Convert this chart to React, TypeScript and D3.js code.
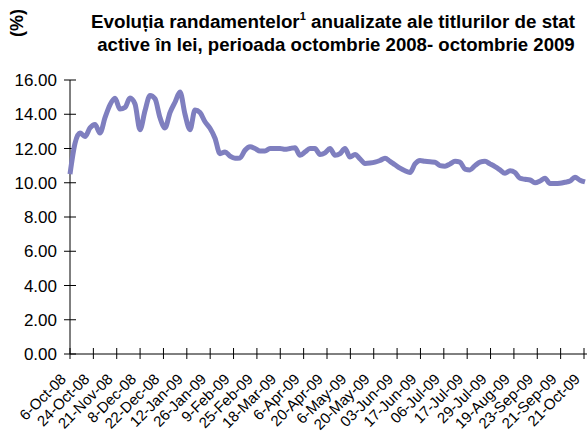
import React from 'react';
import * as d3 from 'd3';

// tick labels on the category axis (one every few auctions)
const dateLabels = [
    '6-Oct-08', '24-Oct-08', '21-Nov-08', '8-Dec-08', '22-Dec-08', '12-Jan-09',
    '26-Jan-09', '9-Feb-09', '25-Feb-09', '18-Mar-09', '6-Apr-09', '20-Apr-09',
    '6-May-09', '20-May-09', '03-Jun-09', '17-Jun-09', '06-Jul-09', '17-Jul-09',
    '29-Jul-09', '19-Aug-09', '23-Sep-09', '21-Sep-09', '21-Oct-09'
];

// yields (%)
const yields = [
    10.5, 12.3, 12.9, 12.7, 13.2, 13.4, 12.9, 13.8, 14.55, 14.93,
    14.3, 14.4, 14.95, 14.6, 13.1, 14.2, 15.1, 14.9, 13.8, 13.2,
    14.1, 14.7, 15.3, 14.0, 13.1, 14.25, 14.1, 13.56, 13.18, 12.6,
    11.7, 11.8, 11.55, 11.43, 11.45, 11.9, 12.1, 12.0, 11.85, 11.85,
    12.0, 12.0, 12.0, 11.95, 12.0, 12.05, 11.6, 11.8, 12.0, 12.0,
    11.65, 11.75, 12.0, 11.6, 11.7, 12.0, 11.5, 11.65, 11.4, 11.13,
    11.15, 11.2, 11.3, 11.43, 11.25, 11.05, 10.85, 10.7, 10.6, 11.1,
    11.3, 11.25, 11.22, 11.2, 11.0, 10.97, 11.1, 11.25, 11.2, 10.8,
    10.75, 11.0, 11.2, 11.25, 11.1, 10.94, 10.75, 10.55, 10.7, 10.6,
    10.26, 10.2, 10.16, 10.0, 10.1, 10.26, 9.95, 9.95, 9.97, 10.03,
    10.1, 10.32, 10.15, 10.05
];

const yTicks = [0, 2, 4, 6, 8, 10, 12, 14, 16];

export default function App() {
    const width = 588, height = 443;
    const left = 70, right = 585, top = 80, bottom = 354;

    const x = d3.scaleLinear().domain([0, yields.length - 1]).range([left, right]);
    const xl = d3.scalePoint().domain(dateLabels).range([left, 584]);
    const y = d3.scaleLinear().domain([0, 16]).range([bottom, top]);

    const line = d3.line<number>()
        .x((d, i) => x(i))
        .y(d => y(d))
        .curve(d3.curveMonotoneX);

    const font = 'Liberation Sans, Arial, sans-serif';

    return (
        <svg width={width} height={height} style={{ position: 'absolute', left: 0, top: 0 }}
            fontFamily={font}>
            <rect width={width} height={height} fill="#fff" />

            {/* titles */}
            <text transform="translate(23,23) rotate(-90)" textAnchor="middle" fontSize={18}
                fontWeight="bold">(%)</text>
            <text x={333} y={28} textAnchor="middle" fontSize={18.8} fontWeight="bold">
                Evoluția randamentelor<tspan fontSize={11} dy={-8}>1</tspan>
                <tspan dy={8}> anualizate ale titlurilor de stat</tspan>
            </text>
            <text x={336} y={51} textAnchor="middle" fontSize={18.6} fontWeight="bold">
                active în lei, perioada octombrie 2008- octombrie 2009
            </text>

            {/* y axis */}
            <line x1={left} x2={left} y1={top} y2={bottom} stroke="#000" />
            {yTicks.map(t => (
                <g key={t}>
                    <line x1={left - 6} x2={left + 6} y1={y(t)} y2={y(t)} stroke="#000" />
                    <text x={left - 13} y={y(t) + 6} textAnchor="end" fontSize={17}>
                        {t.toFixed(2)}
                    </text>
                </g>
            ))}

            {/* x axis */}
            <line x1={left} x2={587} y1={bottom} y2={bottom} stroke="#000" />
            {dateLabels.map(d => (
                <g key={d}>
                    <line x1={xl(d)} x2={xl(d)} y1={bottom - 6} y2={bottom + 5} stroke="#000" />
                    <text transform={`translate(${(xl(d) as number) - 3},${bottom + 26}) rotate(-45)`}
                        textAnchor="end" fontSize={15}>{d}</text>
                </g>
            ))}

            <path d={line(yields) as string} fill="none" stroke="#7f7fbf" strokeWidth={5}
                strokeLinejoin="round" />
        </svg>
    );
}
